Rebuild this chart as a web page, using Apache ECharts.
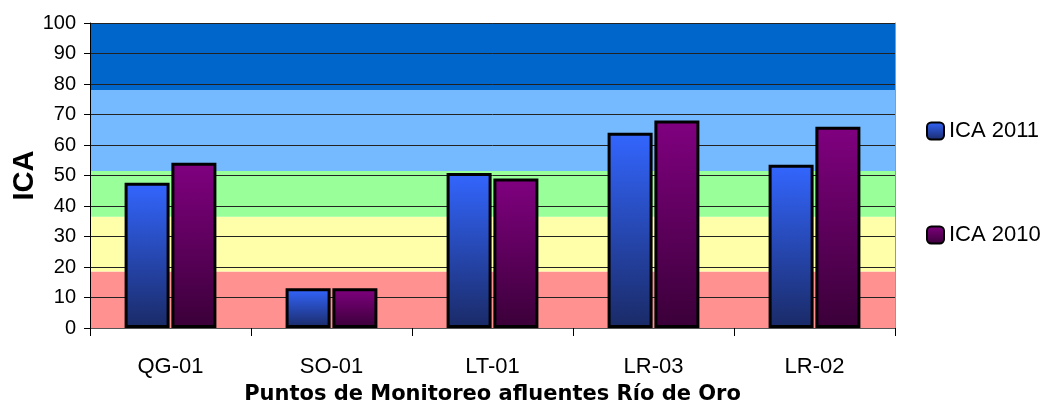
<!DOCTYPE html>
<html>
<head>
<meta charset="utf-8">
<script src="https://cdn.jsdelivr.net/npm/echarts@6/dist/echarts.min.js"></script>
<style>
html,body{margin:0;padding:0;background:#fff;}
#c{width:1056px;height:413px;}
</style>
</head>
<body>
<div id="c"></div>
<script>
var categories = ['QG-01', 'SO-01', 'LT-01', 'LR-03', 'LR-02'];
var ica2011 = [47.6, 13, 50.8, 64, 53.5];
var ica2010 = [54.2, 13, 49, 68, 66];
var bandEdges = [0, 18.5, 36.5, 51.5, 78, 100];
var bandColors = ['#FF9191', '#FFFFAA', '#99FF99', '#75B9FF', '#0066CC'];
var yTicks = { min: 0, max: 100, interval: 10 };

var FONT = 'Liberation Sans, Arial, sans-serif';
var WIDE = 'DejaVu Sans, Liberation Sans, Arial, sans-serif';

var bands = [];
for (var i = 0; i < bandColors.length; i++) {
  bands.push([{ yAxis: bandEdges[i], itemStyle: { color: bandColors[i] } }, { yAxis: bandEdges[i + 1] }]);
}

function grad(top, bottom) {
  return new echarts.graphic.LinearGradient(0, 0, 0, 1, [
    { offset: 0, color: top }, { offset: 1, color: bottom }
  ]);
}

var chart = echarts.init(document.getElementById('c'), null, { renderer: 'canvas' });
chart.setOption({
  animation: false,
  backgroundColor: '#fff',
  grid: { left: 90, right: 161, top: 23, bottom: 85, containLabel: false, outerBoundsMode: 'none' },
  legend: {
    orient: 'vertical',
    left: 926,
    top: 120,
    padding: 0,
    itemWidth: 17,
    itemHeight: 17,
    itemGap: 82,
    data: ['ICA 2011', 'ICA 2010'],
    textStyle: { fontFamily: FONT, fontSize: 22, color: '#000' },
    itemStyle: { borderColor: '#000', borderWidth: 2 }
  },
  xAxis: {
    type: 'category',
    data: categories,
    name: 'Puntos de Monitoreo afluentes Río de Oro',
    nameLocation: 'middle',
    nameGap: 56,
    nameMoveOverlap: false,
    nameTextStyle: { fontFamily: WIDE, fontSize: 21, fontWeight: 'bold', color: '#000' },
    axisLine: { lineStyle: { color: '#555', width: 1 } },
    axisTick: { show: true, length: 8, lineStyle: { color: '#000' } },
    axisLabel: { fontFamily: FONT, fontSize: 22, color: '#000', margin: 28 },
    splitLine: { show: false },
    z: 1.5
  },
  yAxis: [{
    type: 'value',
    min: yTicks.min,
    max: yTicks.max,
    interval: yTicks.interval,
    name: 'ICA',
    nameLocation: 'middle',
    nameGap: 51,
    nameMoveOverlap: false,
    nameRotate: 90,
    nameTextStyle: { fontFamily: FONT, fontSize: 29, fontWeight: 'bold', color: '#000' },
    axisLine: { show: true, lineStyle: { color: '#000', width: 1 } },
    axisTick: { show: true, length: 6, lineStyle: { color: '#000' } },
    axisLabel: { fontFamily: FONT, fontSize: 20, color: '#000', margin: 14 },
    splitLine: { show: true, lineStyle: { color: '#222', width: 1 } },
    z: 1.5
  }, {
    type: 'value',
    position: 'right',
    min: yTicks.min,
    max: yTicks.max,
    axisLine: { show: true, lineStyle: { color: '#999', width: 1 } },
    axisTick: { show: false },
    axisLabel: { show: false },
    splitLine: { show: false },
    z: 1.5
  }],
  series: [
    {
      name: 'bands',
      type: 'line',
      data: [],
      z: 0,
      silent: true,
      markArea: { silent: true, z: 0, data: bands }
    },
    {
      name: 'ICA 2011',
      type: 'bar',
      data: ica2011,
      barWidth: 45,
      barGap: '4%',
      z: 2,
      itemStyle: { color: grad('#3366FF', '#1A2A66'), borderColor: '#000', borderWidth: 3 }
    },
    {
      name: 'ICA 2010',
      type: 'bar',
      data: ica2010,
      barWidth: 45,
      z: 2,
      itemStyle: { color: grad('#800080', '#3A0038'), borderColor: '#000', borderWidth: 3 }
    }
  ]
});
</script>
</body>
</html>
